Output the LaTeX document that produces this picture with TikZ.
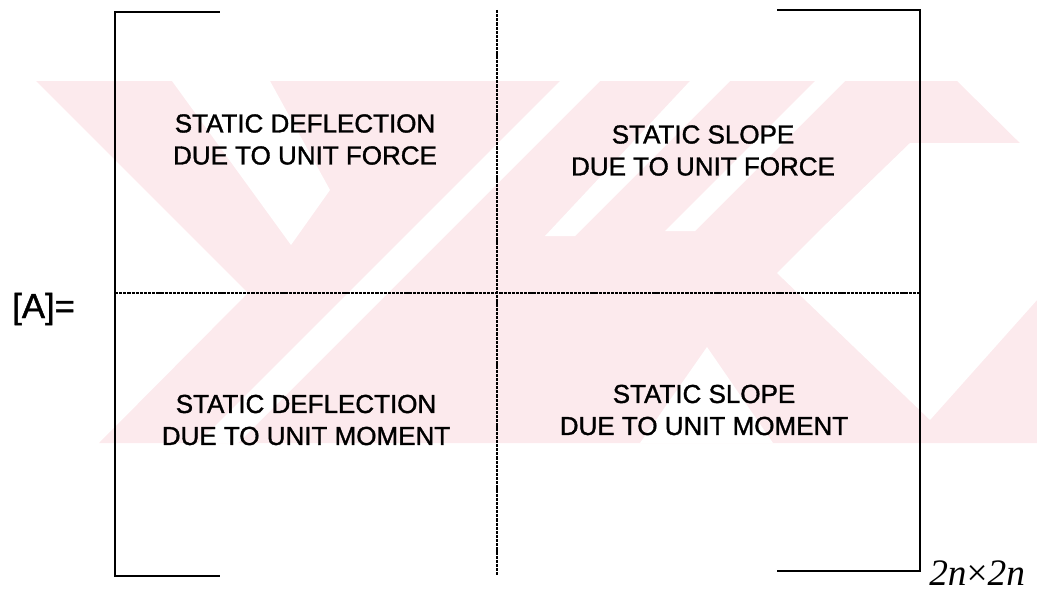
\documentclass[tikz,border=0pt]{standalone}
\usepackage{fontspec}
\setmainfont{Liberation Sans}
\newfontfamily\cellfont[FakeBold=1.3]{Liberation Sans}
\newfontfamily\timesfont{Liberation Serif}
\definecolor{wmpink}{RGB}{252,234,237}
\begin{document}
\begin{tikzpicture}[x=0.75pt,y=-0.75pt,
  bracketline/.style={line width=2pt,line cap=rect,line join=miter},
  divider/.style={line width=1pt,dash pattern=on 2.4pt off 0.7pt},
  cell/.style={font=\fontsize{19.5pt}{24pt}\cellfont,align=center,inner sep=0pt},
  lhs/.style={font=\fontsize{26pt}{30pt}\cellfont,inner sep=0pt,anchor=base west},
  dims/.style={font=\fontsize{28pt}{30pt}\timesfont,inner sep=0pt,anchor=base west},
  wm/.style={fill=wmpink,draw=none},
  gap/.style={fill=white,draw=none}]
\useasboundingbox (0,0) rectangle (1037,592);

% pale background emblem
\begin{scope}
  \clip (36,81) rectangle (1037,443);
  \fill[wm] (36,81) -- (957,81) -- (1037,160) -- (1037,443) -- (99,443) -- (248,293) -- cycle;
  \fill[gap] (172,81) -- (270,81) -- (330,190) -- (291,245) -- cycle;
  \fill[gap] (560,81) -- (600,81) -- (238,443) -- (198,443) -- cycle;
  \fill[gap] (690,81) -- (730,81) -- (575,236) -- (545,236) -- cycle;
  \fill[gap] (815,81) -- (845,81) -- (695,231) -- (665,231) -- cycle;
  \fill[gap] (777,273) -- (820,230) -- (910,143) -- (1037,143) -- (1037,300) -- (930,420) -- cycle;
  \fill[gap] (707,347) -- (773,443) -- (640,443) -- cycle;
\end{scope}

% corner points of the two matrix brackets
\coordinate (lt) at (219,12);  \coordinate (ltc) at (115,12);
\coordinate (lbc) at (115,576); \coordinate (lb) at (219,576);
\coordinate (rt) at (778,10);  \coordinate (rtc) at (920,10);
\coordinate (rbc) at (920,571); \coordinate (rb) at (778,571);

% partition lines
\coordinate (vtop) at (497,10);  \coordinate (vbot) at (497,575);
\coordinate (hl) at (115,293);   \coordinate (hr) at (920,293);

\draw[bracketline] (lt) -- (ltc) -- (lbc) -- (lb);
\draw[bracketline] (rt) -- (rtc) -- (rbc) -- (rb);
\draw[divider] (vtop) -- (vbot);
\draw[divider] (hl) -- (hr);

% blocks of the matrix
\node[cell] (q11) at (305,139.5) {STATIC DEFLECTION\\DUE TO UNIT FORCE};
\node[cell] (q12) at (703,150.5) {STATIC SLOPE\\DUE TO UNIT FORCE};
\node[cell] (q21) at (306,420) {STATIC DEFLECTION\\DUE TO UNIT MOMENT};
\node[cell] (q22) at (704,410) {STATIC SLOPE\\DUE TO UNIT MOMENT};

\node[lhs] (name) at (12,318) {[A]=};
\node[dims] (size) at (929,585) {\itshape 2n\upshape×\itshape 2n};
\end{tikzpicture}
\end{document}
